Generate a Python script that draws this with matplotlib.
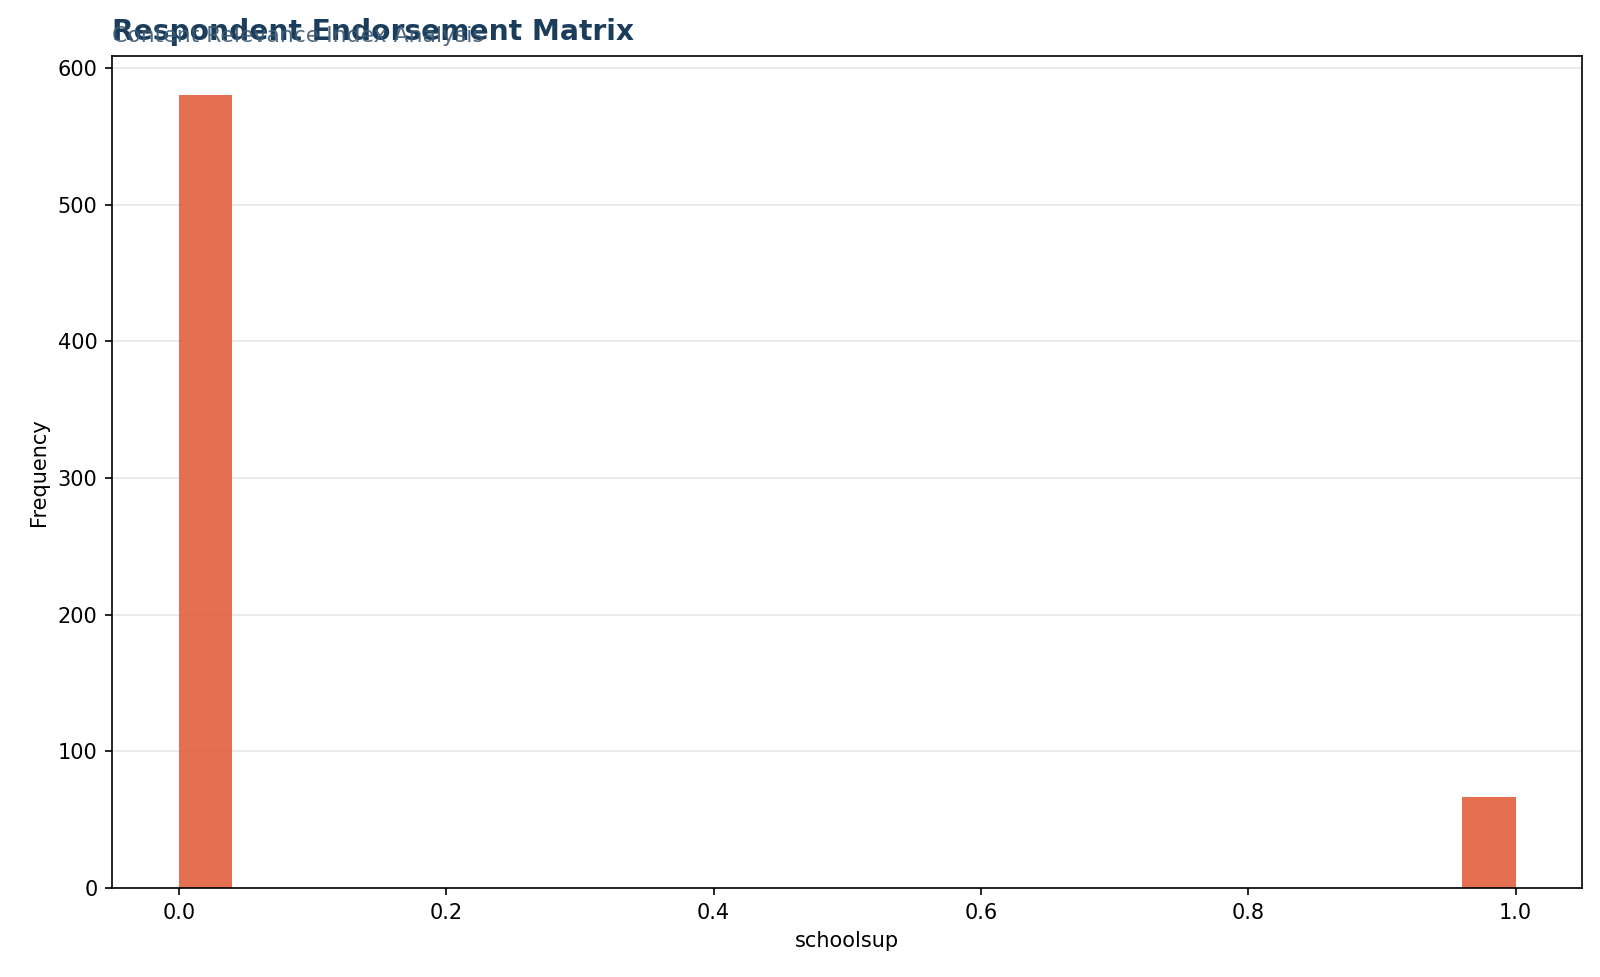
import matplotlib
matplotlib.use("Agg")
import matplotlib.pyplot as plt
import numpy as np

bin_edges = np.linspace(0, 1, 26)
counts = [580] + [0]*23 + [67]

fig = plt.figure(figsize=(1600/150, 977/150), dpi=150)
ax = fig.add_axes([0.070, 0.091, 0.919, 0.852])
ax.hist(bin_edges[:-1], bins=bin_edges, weights=counts, color="#e35f3e", alpha=0.9)
ax.set_xlim(-0.05, 1.05)
ax.set_ylim(0, 609)
ax.yaxis.grid(True, color="#e6e6e6", linewidth=0.8)
ax.set_axisbelow(True)
ax.set_xlabel("schoolsup", fontsize=10)
ax.set_ylabel("Frequency", fontsize=10)
ax.tick_params(labelsize=10)
ax.text(0, 1.012, "Respondent Endorsement Matrix", transform=ax.transAxes, fontsize=13.5,
        fontweight="bold", color="#1b3d5c", va="bottom")
ax.text(0, 1.012, "Content Relevance Index Analysis", transform=ax.transAxes, fontsize=10.5,
        color="#3d5a73", va="bottom", alpha=0.9)
fig.savefig("out.png", dpi=150)
